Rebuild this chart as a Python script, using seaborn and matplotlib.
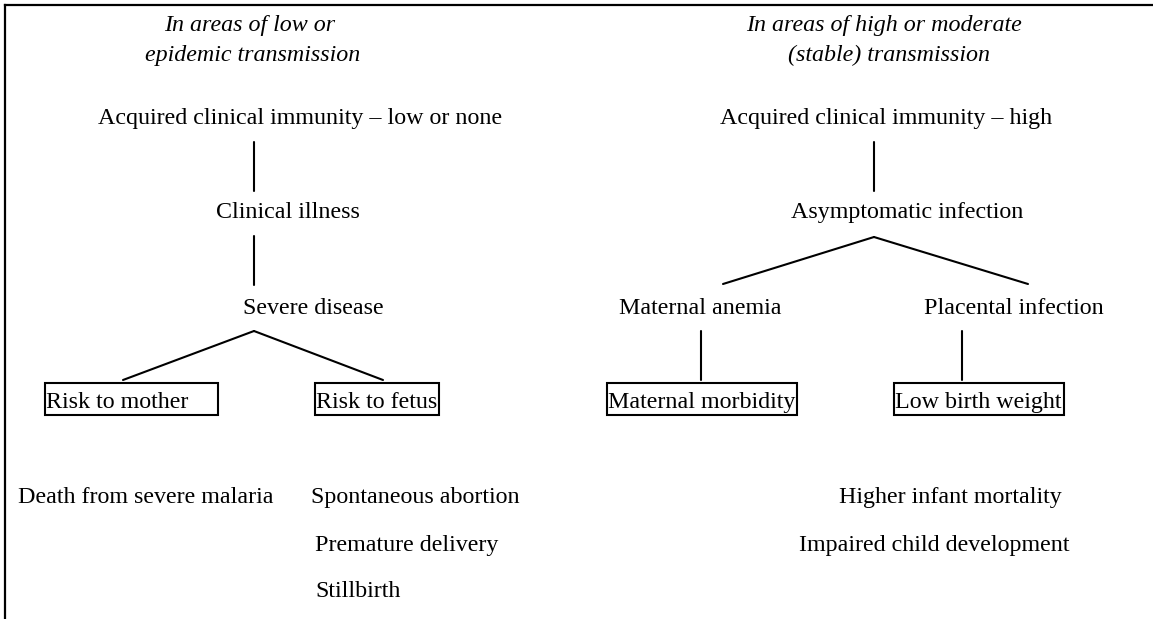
import matplotlib
matplotlib.use("Agg")
import matplotlib.pyplot as plt
import seaborn as sns
import pandas as pd
from matplotlib.patches import Rectangle

sns.set_theme(style="white")
plt.rcParams['font.family'] = ['Liberation Serif', 'DejaVu Serif']
plt.rcParams['text.color'] = 'black'

# Headings (italic)
heading_texts = ["In areas of low or", "epidemic transmission",
                 "In areas of high or moderate", "(stable) transmission"]
heading_x = [250, 253, 884, 889]
heading_y = [31, 61, 31, 61]

# Plain nodes (centered)
node_texts = ["Acquired clinical immunity \u2013 low or none", "Clinical illness", "Severe disease",
              "Acquired clinical immunity \u2013 high", "Asymptomatic infection",
              "Maternal anemia", "Placental infection"]
node_x = [300, 288, 313, 886, 907, 700, 1014]
node_y = [124, 218, 314, 124, 218, 314, 314]

# Boxed nodes
box_texts = ["Risk to mother", "Risk to fetus", "Maternal morbidity", "Low birth weight"]
box_x0 = [45, 315, 607, 894]
box_x1 = [218, 439, 797, 1064]
box_y0 = 383
box_y1 = 415
box_text_y = 408

# Outcomes (left aligned)
outcome_texts = ["Death from severe malaria", "Spontaneous abortion", "Premature delivery", "Stillbirth",
                 "Higher infant mortality", "Impaired child development"]
outcome_x = [18, 311, 315, 315, 839, 799]
outcome_y = [503, 503, 551, 597, 503, 551]

# Connector edges
edge_x0 = [254, 254, 254, 254, 874, 874, 874, 701, 962]
edge_y0 = [142, 236, 331, 331, 142, 237, 237, 331, 331]
edge_x1 = [254, 254, 123, 383, 874, 723, 1028, 701, 962]
edge_y1 = [191, 285, 380, 380, 191, 284, 284, 380, 380]

W, H = 1153, 619
fig = plt.figure(figsize=(W / 100, H / 100), dpi=100)
ax = fig.add_axes([0, 0, 1, 1])
ax.set_xlim(0, W)
ax.set_ylim(H, 0)
ax.axis("off")

rows = []
for i in range(len(edge_x0)):
    rows.append({"x": edge_x0[i], "y": edge_y0[i], "edge": i})
    rows.append({"x": edge_x1[i], "y": edge_y1[i], "edge": i})
edges = pd.DataFrame(rows)
sns.lineplot(data=edges, x="x", y="y", units="edge", estimator=None, sort=False,
             color="black", lw=1.5, ax=ax, legend=False)

# Frame lines (top and left)
ax.plot([5, 5], [5, H + 5], color="black", lw=1.6, solid_capstyle="projecting")
ax.plot([5, W + 5], [5, 5], color="black", lw=1.6, solid_capstyle="projecting")

FS = 17.3
for t, x, y in zip(heading_texts, heading_x, heading_y):
    ax.text(x, y, t, ha="center", va="baseline", fontsize=FS, style="italic")
for t, x, y in zip(node_texts, node_x, node_y):
    ax.text(x, y, t, ha="center", va="baseline", fontsize=FS)
for t, x0, x1 in zip(box_texts, box_x0, box_x1):
    ax.add_patch(Rectangle((x0, box_y0), x1 - x0, box_y1 - box_y0, fill=False, ec="black", lw=1.5))
    ax.text(x0 + 1, box_text_y, t, ha="left", va="baseline", fontsize=FS)
for t, x, y in zip(outcome_texts, outcome_x, outcome_y):
    ax.text(x, y, t, ha="left", va="baseline", fontsize=FS)

ax.set_xlabel("")
ax.set_ylabel("")
fig.savefig("out.png", dpi=100, facecolor="white")
